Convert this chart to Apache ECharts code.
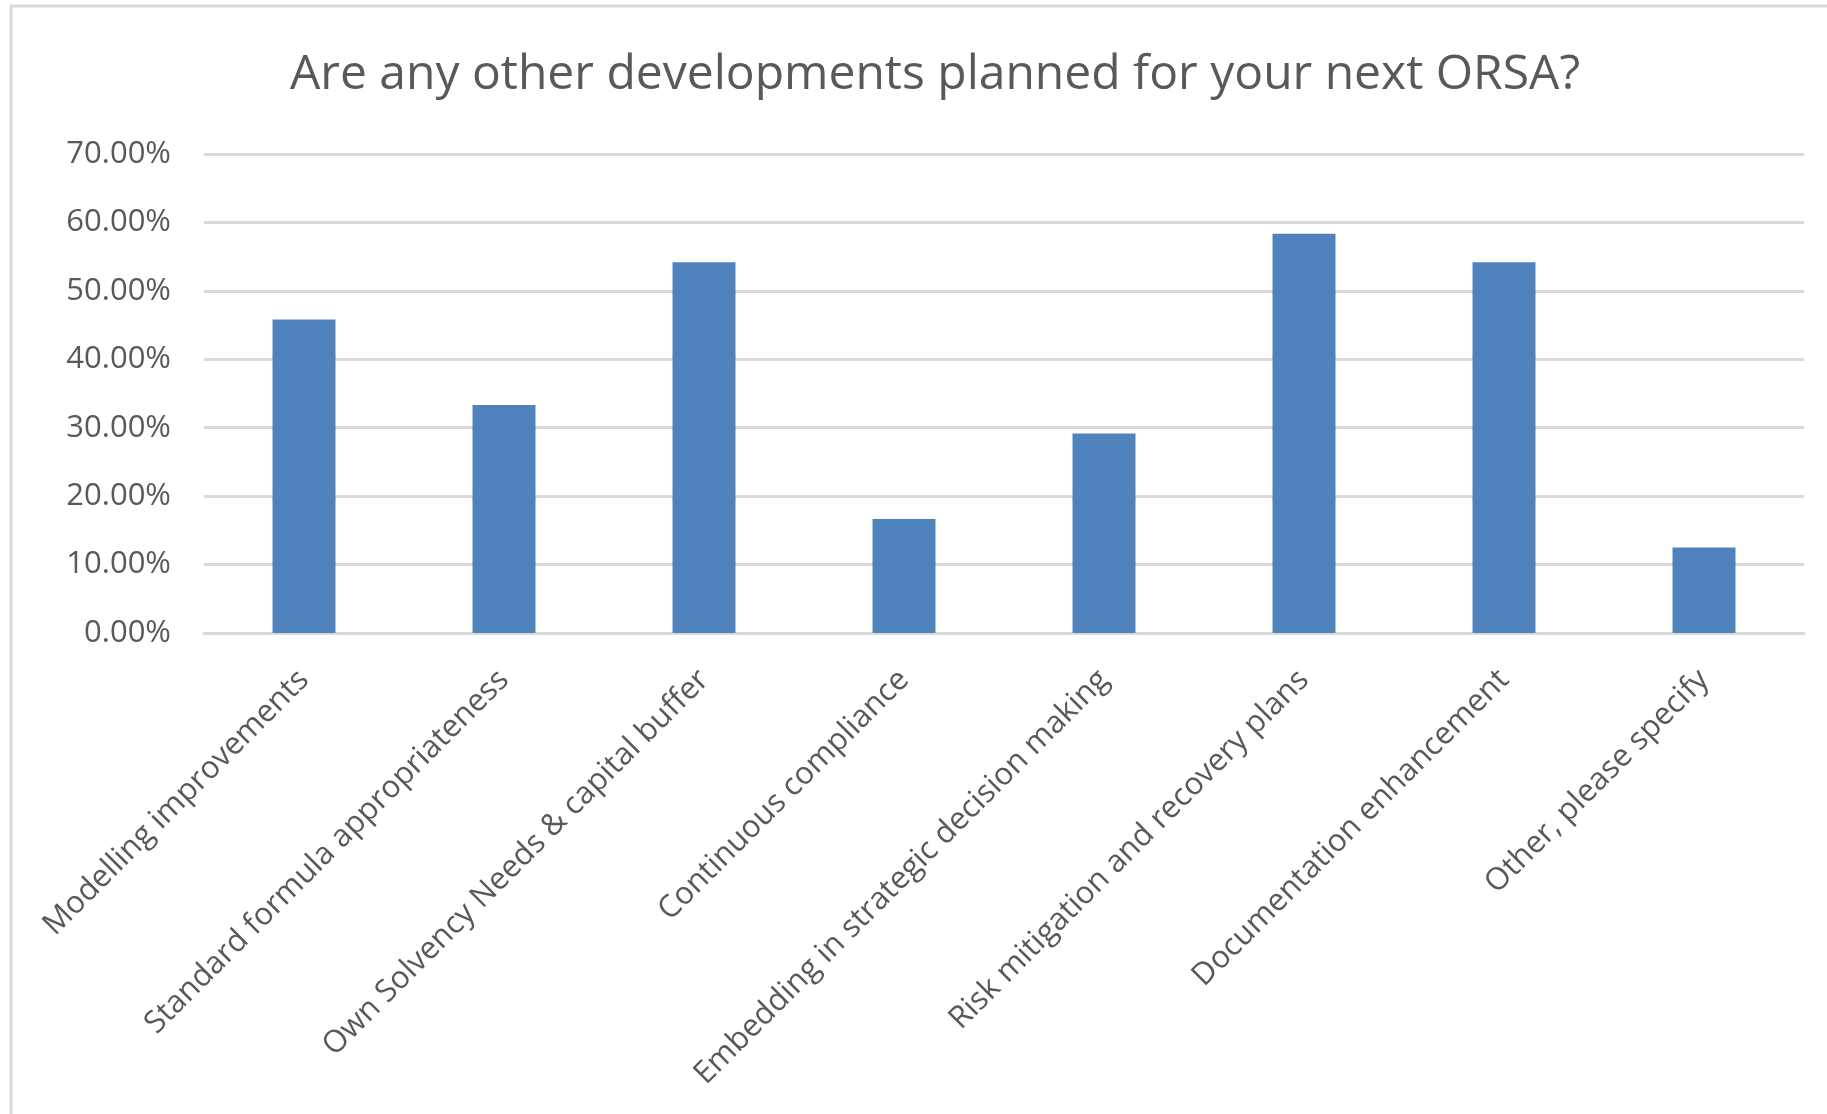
<!DOCTYPE html>
<html>
<head>
<meta charset="utf-8">
<script src="https://cdn.jsdelivr.net/npm/echarts@6/dist/echarts.min.js"></script>
<style>
  html, body { margin: 0; padding: 0; background: #ffffff; }
  #chart { width: 1827px; height: 1114px; }
</style>
</head>
<body>
<div id="chart"></div>
<script>
// Survey question and answer categories
const chartTitle = 'Are any other developments planned for your next ORSA?';
const categories = [
  'Modelling improvements',
  'Standard formula appropriateness',
  'Own Solvency Needs & capital buffer',
  'Continuous compliance',
  'Embedding in strategic decision making',
  'Risk mitigation and recovery plans',
  'Documentation enhancement',
  'Other, please specify'
];
// Share of respondents (%)
const shares = [45.83, 33.33, 54.17, 16.67, 29.17, 58.33, 54.17, 12.5];
// Value axis range and step (%)
const axisMin = 0;
const axisMax = 70;
const axisStep = 10;

const textColor = '#595959';
const gridColor = '#d9d9d9';
const fontFamily = '"Open Sans", "Noto Sans", sans-serif';

const chart = echarts.init(document.getElementById('chart'), null, { renderer: 'canvas' });

chart.setOption({
  backgroundColor: '#ffffff',
  animation: false,
  title: {
    text: chartTitle,
    left: 930,
    textAlign: 'center',
    top: 46,
    textStyle: {
      color: textColor,
      fontFamily: fontFamily,
      fontSize: 48,
      fontWeight: 'normal'
    }
  },
  grid: {
    left: 204,
    right: 23,
    top: 154,
    bottom: 481,
    containLabel: false
  },
  xAxis: {
    type: 'category',
    data: categories,
    axisLine: { show: true, lineStyle: { color: gridColor, width: 3 } },
    axisTick: { show: false },
    axisLabel: {
      interval: 0,
      rotate: 45,
      margin: 42,
      color: textColor,
      fontFamily: fontFamily,
      fontSize: 31
    }
  },
  yAxis: {
    type: 'value',
    min: axisMin,
    max: axisMax,
    interval: axisStep,
    axisLine: { show: false },
    axisTick: { show: false },
    splitLine: { show: true, lineStyle: { color: gridColor, width: 3 } },
    axisLabel: {
      margin: 33,
      color: textColor,
      fontFamily: fontFamily,
      fontSize: 31,
      formatter: v => v.toFixed(2) + '%'
    }
  },
  series: [{
    type: 'bar',
    data: shares,
    barWidth: 63,
    itemStyle: { color: '#4f81bd' }
  }],
  graphic: [{
    type: 'polyline',
    silent: true,
    shape: { points: [[11, 1114], [11, 6], [1827, 6]] },
    style: { stroke: gridColor, lineWidth: 3, fill: null }
  }]
});
</script>
</body>
</html>
